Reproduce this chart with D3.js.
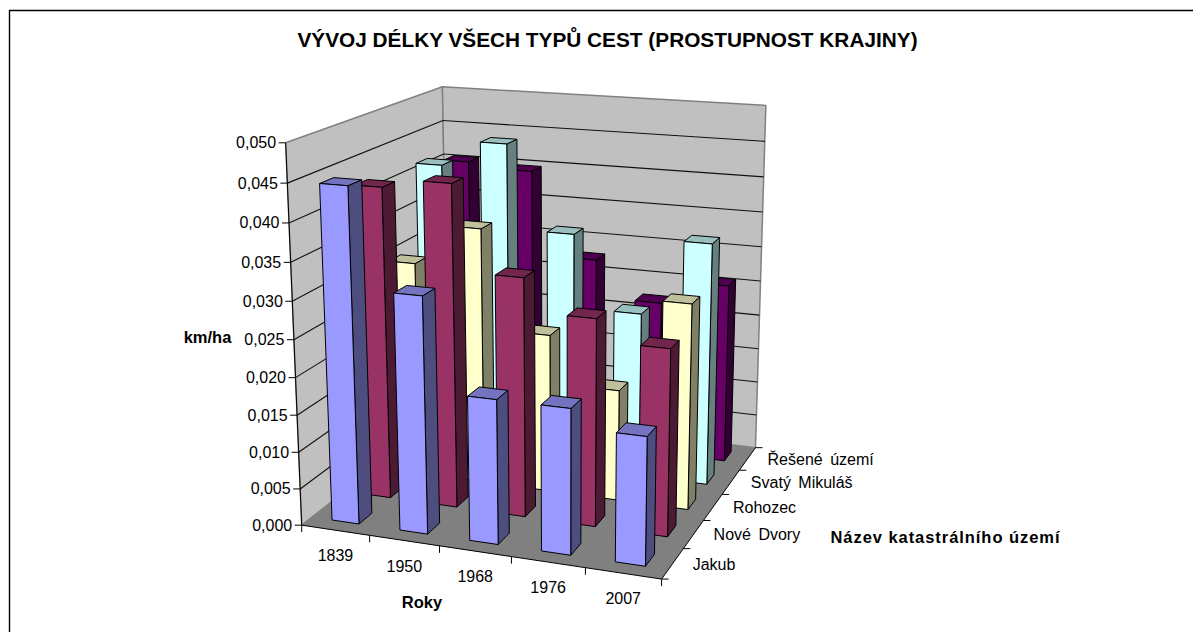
<!DOCTYPE html>
<html><head><meta charset="utf-8">
<script src="https://cdn.jsdelivr.net/npm/d3@7"></script>
<style>html,body{margin:0;padding:0;background:#fff;overflow:hidden}svg{display:block}text{font-family:"Liberation Sans",Arial,sans-serif;fill:#000}</style>
</head><body><div id="c"></div>
<script>
const years = ["1839","1950","1968","1976","2007"];
const seriesNames = ["Jakub","Nové Dvory","Rohozec","Svatý Mikuláš","Řešené území"];
const jakub = [0.0446,0.0315,0.0192,0.0192,0.0168];
const noveDvory = [0.0425,0.0437,0.0323,0.0279,0.0250];
const rohozec = [0.0301,0.0357,0.0220,0.0154,0.0282];
const svatyMikulas = [0.0418,0.0454,0.0336,0.0233,0.0339];
const reseneUzemi = [0.0405,0.0398,0.0277,0.0223,0.0257];
const seriesValues = [jakub,noveDvory,rohozec,svatyMikulas,reseneUzemi];
const seriesColors = ["#9999FF","#993366","#FFFFCC","#CCFFFF","#660066"];
const valueTicks = [0,0.005,0.01,0.015,0.02,0.025,0.03,0.035,0.04,0.045,0.05];

const W=1193,H=632;
const svg=d3.select("#c").append("svg").attr("width",W).attr("height",H);

// world scales: unit cube
const sx=d3.scaleBand().domain(years).range([0,1]).paddingInner(0.6).paddingOuter(0.3);
const sy=d3.scaleBand().domain(seriesNames).range([0,1]).paddingInner(0.6).paddingOuter(0.3);
const sz=d3.scaleLinear().domain([0,0.05]).range([0,1]);

// camera calibrated from the cube's visible corners (world -> screen)
const anchors=[
 [0,0,0,301,526],[1,0,0,662,578],[1,1,0,755,449],[0,1,0,449,409],
 [0,0,1,286,143],[1,1,1,766,105],[0,1,1,442,87]
];
function solveCamera(pts){
  const A=[],b=[];
  pts.forEach(([x,y,z,u,v])=>{u/=1000;v/=1000;
    A.push([x,y,z,1,0,0,0,0,-u*x,-u*y,-u*z]);b.push(u);
    A.push([0,0,0,0,x,y,z,1,-v*x,-v*y,-v*z]);b.push(v);});
  const n=11,M=d3.range(n).map(i=>d3.range(n+1).map(j=>{
    let s=0;A.forEach((r,k)=>{s+=r[i]*(j<n?r[j]:b[k]);});return s;}));
  for(let i=0;i<n;i++){
    let p=i;for(let r=i+1;r<n;r++)if(Math.abs(M[r][i])>Math.abs(M[p][i]))p=r;
    [M[i],M[p]]=[M[p],M[i]];
    for(let r=0;r<n;r++){if(r===i)continue;const f=M[r][i]/M[i][i];
      for(let c=i;c<=n;c++)M[r][c]-=f*M[i][c];}
  }
  return M.map((r,i)=>r[n]/r[i]);
}
const cam=solveCamera(anchors);
function P(x,y,z){
  const w=cam[8]*x+cam[9]*y+cam[10]*z+1;
  return [1000*(cam[0]*x+cam[1]*y+cam[2]*z+cam[3])/w,1000*(cam[4]*x+cam[5]*y+cam[6]*z+cam[7])/w];
}
const poly=(g,pts,fill,stroke,sw)=>g.append("polygon").attr("points",pts.map(p=>p.join(",")).join(" "))
  .attr("fill",fill).attr("stroke",stroke||"none").attr("stroke-width",sw||1).attr("stroke-linejoin","round");
const line=(g,a,b,stroke,sw)=>g.append("line").attr("x1",a[0]).attr("y1",a[1]).attr("x2",b[0]).attr("y2",b[1]).attr("stroke",stroke).attr("stroke-width",sw||1);

// frame (only top and left are in view)
svg.append("path").attr("d",`M9.5,${H}V10.5H${W}`).attr("fill","none").attr("stroke","#000").attr("stroke-width",1.4);

svg.append("text").attr("x",607.5).attr("y",47).attr("text-anchor","middle").attr("font-weight","bold").attr("font-size",20.8).text("VÝVOJ DÉLKY VŠECH TYPŮ CEST (PROSTUPNOST KRAJINY)");

const g=svg.append("g");
// walls + floor
poly(g,[P(0,0,0),P(0,1,0),P(0,1,1),P(0,0,1)],"#C0C0C0","#808080",1.5);
poly(g,[P(0,1,0),P(1,1,0),P(1,1,1),P(0,1,1)],"#C0C0C0","#808080",1.5);
poly(g,[P(0,0,0),P(1,0,0),P(1,1,0),P(0,1,0)],"#808080");
// gridlines
valueTicks.slice(1,-1).forEach(t=>{const z=sz(t);
  line(g,P(0,0,z),P(0,1,z),"#111",1.1);line(g,P(0,1,z),P(1,1,z),"#111",1.1);});

// bars, back row first
const color=d3.scaleOrdinal().domain(seriesNames).range(seriesColors);
const bars=g.append("g");
for(let j=seriesNames.length-1;j>=0;j--){
  const name=seriesNames[j],y0=sy(name),y1=y0+sy.bandwidth(),base=d3.color(color(name));
  const shade=k=>d3.rgb(base.r*k,base.g*k,base.b*k).formatHex();
  years.forEach((yr,i)=>{
    const x0=sx(yr),x1=x0+sx.bandwidth(),z=sz(seriesValues[j][i]);
    const b=bars.append("g");
    poly(b,[P(x1,y0,0),P(x1,y1,0),P(x1,y1,z),P(x1,y0,z)],shade(0.5),"#000",1);
    poly(b,[P(x0,y0,z),P(x1,y0,z),P(x1,y1,z),P(x0,y1,z)],shade(0.75),"#000",1);
    poly(b,[P(x0,y0,0),P(x1,y0,0),P(x1,y0,z),P(x0,y0,z)],base.formatHex(),"#000",1);
  });
}

// axes
const ax=svg.append("g");
line(ax,P(0,0,0),P(0,0,1),"#000",1);
line(ax,P(0,0,0),P(1,0,0),"#000",1);
line(ax,P(1,0,0),P(1,1,0),"#000",1);
const fmt=d3.format(".3f");
valueTicks.forEach(t=>{const p=P(0,0,sz(t));
  line(ax,[p[0]-7,p[1]],p,"#000",1);
  ax.append("text").attr("x",p[0]-9.5).attr("y",p[1]+5.5).attr("text-anchor","end").attr("font-size",16).text(fmt(t).replace(".",","));
});
d3.range(years.length+1).forEach(i=>{const p=P(i/years.length,0,0);line(ax,p,[p[0],p[1]+7],"#000",1);});
years.forEach(yr=>{const p=P(sx(yr)+sx.bandwidth()/2,0,0);
  ax.append("text").attr("x",p[0]).attr("y",p[1]+31).attr("text-anchor","middle").attr("font-size",16).text(yr);});
d3.range(seriesNames.length+1).forEach(j=>{const p=P(1,j/seriesNames.length,0);line(ax,p,[p[0]+7,p[1]],"#000",1);});
seriesNames.forEach(s=>{const p=P(1,sy(s)+sy.bandwidth()/2,0);
  ax.append("text").attr("x",p[0]+20).attr("y",p[1]+6).attr("font-size",16).attr("word-spacing",3).text(s);});

ax.append("text").attr("x",207.5).attr("y",343).attr("text-anchor","middle").attr("font-weight","bold").attr("font-size",16.5).text("km/ha");
ax.append("text").attr("x",422).attr("y",608).attr("text-anchor","middle").attr("font-weight","bold").attr("font-size",16.5).text("Roky");
ax.append("text").attr("x",945).attr("y",543).attr("text-anchor","middle").attr("font-weight","bold").attr("font-size",16.5).attr("textLength",229).text("Název katastrálního území");
</script></body></html>
